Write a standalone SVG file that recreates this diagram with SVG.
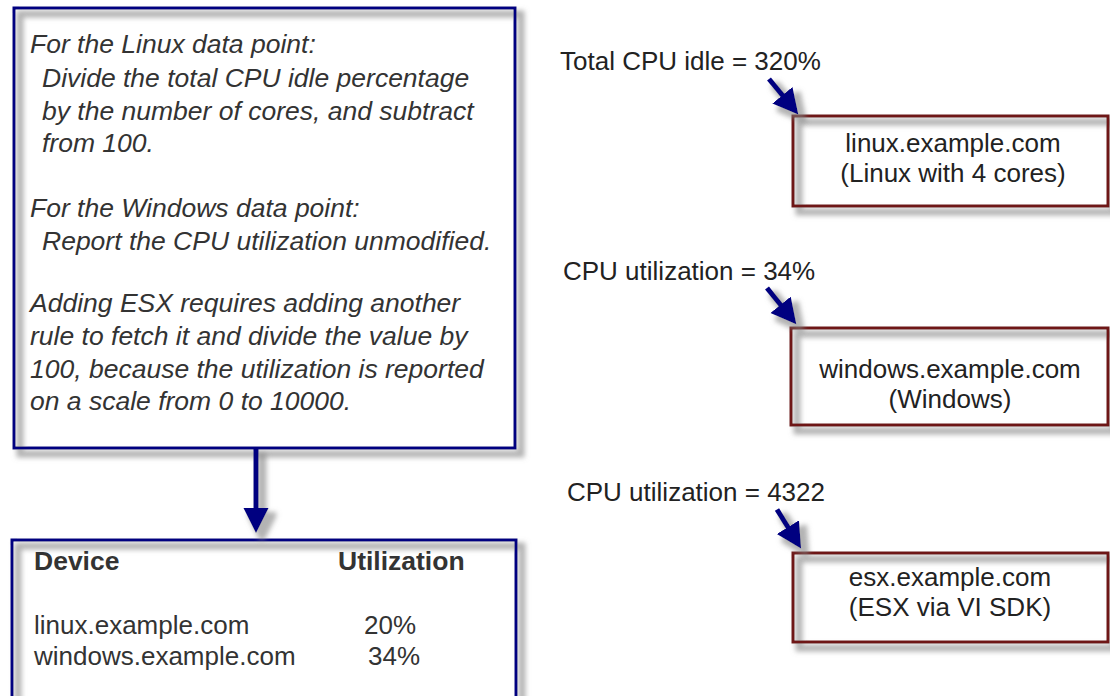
<svg xmlns="http://www.w3.org/2000/svg" width="1110" height="696" viewBox="0 0 1110 696">
<style>
text{font-family:"Liberation Sans",Arial,Helvetica,sans-serif;fill:#222;}
.note{font-size:26.5px;font-style:italic;fill:#333;}
.lbl{font-size:26px;}
.ctr{font-size:26px;text-anchor:middle;}
.hdr{font-size:26.5px;font-weight:bold;fill:#333;}
.cell{font-size:26px;fill:#333;}
.bluebox{fill:none;stroke:#000080;stroke-width:3;}
.redbox{fill:none;stroke:#6e1414;stroke-width:3;}
.conn{stroke:#000080;stroke-width:5;fill:none;}
</style>
<defs>
<filter id="sh" x="-10%" y="-10%" width="130%" height="130%">
<feMorphology in="SourceAlpha" operator="dilate" radius="1.5" result="d"/>
<feGaussianBlur in="d" stdDeviation="2.5"/>
<feOffset dx="6" dy="6" result="b"/>
<feFlood flood-color="#808080" flood-opacity="0.6"/>
<feComposite in2="b" operator="in" result="s"/>
<feMerge><feMergeNode in="s"/><feMergeNode in="SourceGraphic"/></feMerge>
</filter>
<marker id="ah" markerUnits="userSpaceOnUse" markerWidth="26" markerHeight="28" refX="11" refY="13" orient="auto">
<path d="M0,0 L25,13 L0,26 z" fill="#000080"/>
</marker>
<marker id="ahv" markerUnits="userSpaceOnUse" markerWidth="26" markerHeight="26" refX="1" refY="12.5" orient="auto">
<path d="M0,0 L25,12.5 L0,25 z" fill="#000080"/>
</marker>
</defs>
<rect width="1110" height="696" fill="#fff"/>

<g id="rules">
<rect class="bluebox" x="14" y="8" width="501" height="440" filter="url(#sh)"/>
<text class="note" x="30" y="53">For the Linux data point:</text>
<text class="note" x="42" y="87">Divide the total CPU idle percentage</text>
<text class="note" x="42" y="120">by the number of cores, and subtract</text>
<text class="note" x="42" y="152">from 100.</text>
<text class="note" x="30" y="217">For the Windows data point:</text>
<text class="note" x="42" y="250">Report the CPU utilization unmodified.</text>
<text class="note" x="30" y="312">Adding ESX requires adding another</text>
<text class="note" x="30" y="345">rule to fetch it and divide the value by</text>
<text class="note" x="30" y="378">100, because the utilization is reported</text>
<text class="note" x="30" y="410">on a scale from 0 to 10000.</text>
</g>

<g id="result">
<rect class="bluebox" x="12" y="540" width="504" height="180" filter="url(#sh)"/>
<text class="hdr" x="34" y="570">Device</text>
<text class="hdr" x="338" y="570">Utilization</text>
<text class="cell" x="34" y="634">linux.example.com</text>
<text class="cell" x="364" y="634">20%</text>
<text class="cell" x="34" y="665">windows.example.com</text>
<text class="cell" x="368" y="665">34%</text>
</g>

<g id="linux">
<text class="lbl" x="560" y="70">Total CPU idle = 320%</text>
<rect class="redbox" x="793" y="116" width="315" height="90" filter="url(#sh)"/>
<text class="ctr" x="953" y="152">linux.example.com</text>
<text class="ctr" x="953" y="182">(Linux with 4 cores)</text>
</g>

<g id="windows">
<text class="lbl" x="563" y="280">CPU utilization = 34%</text>
<rect class="redbox" x="791" y="328" width="317" height="97" filter="url(#sh)"/>
<text class="ctr" x="950" y="378">windows.example.com</text>
<text class="ctr" x="950" y="408">(Windows)</text>
</g>

<g id="esx">
<text class="lbl" x="567" y="501">CPU utilization = 4322</text>
<rect class="redbox" x="793" y="553" width="315" height="89" filter="url(#sh)"/>
<text class="ctr" x="950" y="586">esx.example.com</text>
<text class="ctr" x="950" y="616">(ESX via VI SDK)</text>
</g>

<g id="connectors" filter="url(#sh)">
<line class="conn" x1="256" y1="449" x2="256" y2="509" marker-end="url(#ahv)"/>
<line class="conn" x1="769" y1="79" x2="789.4" y2="103.7" marker-end="url(#ah)"/>
<line class="conn" x1="767" y1="288" x2="787.5" y2="313.3" marker-end="url(#ah)"/>
<line class="conn" x1="777" y1="509.5" x2="793.7" y2="536.5" marker-end="url(#ah)"/>
</g>
</svg>
